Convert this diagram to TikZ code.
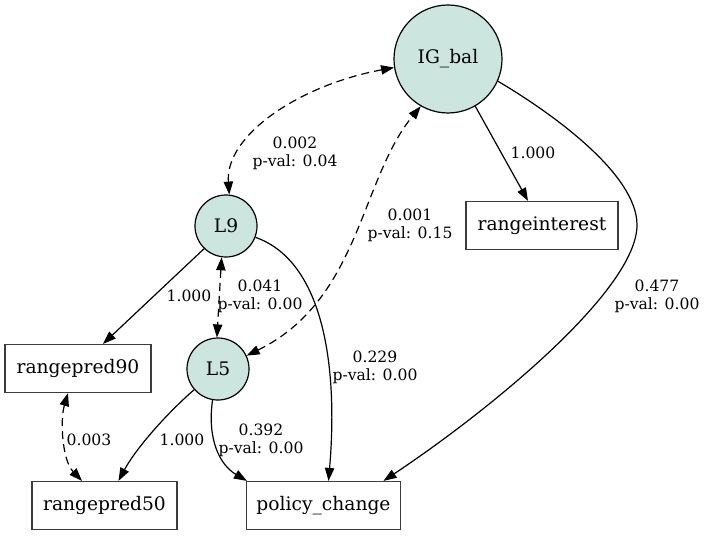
\documentclass[tikz,border=0pt]{standalone}
\usepackage{fontspec}
\setmainfont{DejaVu Serif}
\usetikzlibrary{arrows.meta,calc}
\definecolor{latfill}{RGB}{204,230,223}
\definecolor{boxgray}{RGB}{60,60,60}
\begin{document}
\begin{tikzpicture}[x=0.75pt,y=-0.75pt,
  >={Triangle[length=9.75pt,width=7pt]},
  latent/.style={circle,draw=black,fill=latfill,line width=0.9pt,inner sep=0pt,
    font=\fontsize{14pt}{16pt}\selectfont},
  obs/.style={rectangle,draw=boxgray,line width=0.9pt,minimum height=36pt,inner sep=0pt,
    font=\fontsize{14pt}{16pt}\selectfont},
  pathedge/.style={->,line width=0.9pt},
  covedge/.style={<->,dash pattern=on 6pt off 3.75pt,line width=0.9pt},
  elabel/.style={align=center,inner sep=0pt,font=\fontsize{11.7pt}{13.5pt}\selectfont}]
\useasboundingbox (0,0) rectangle (706,535);
% nodes
\node[latent,minimum size=81pt] (IG) at (448,59) {IG\_bal};
\node[latent,minimum size=46.5pt] (L9) at (226,226) {L9};
\node[latent,minimum size=46.5pt] (L5) at (218,369) {L5};
\node[obs,minimum width=114pt] (ri) at (542,225.5) {rangeinterest};
\node[obs,minimum width=109.5pt] (rp90) at (78,368.5) {rangepred90};
\node[obs,minimum width=108.75pt] (rp50) at (104.5,505.5) {rangepred50};
\node[obs,minimum width=115.5pt] (pc) at (323.5,505.5) {policy\_change};
% directed paths
\draw[pathedge] (IG.-60) -- ($(ri.north)+(-14,0)$);
\draw[pathedge] (IG.-24) .. controls (555,115) and (637,175) .. (637,225)
  .. controls (637,290) and (490,410) .. ($(pc.north)+(60,0)$);
\draw[pathedge] (L9.-134) -- ($(rp90.north)+(25,0)$);
\draw[pathedge] (L9.-21) .. controls (325,262) and (338,370) .. ($(pc.north)+(5,0)$);
\draw[pathedge] (L5.-139) .. controls (165,415) and (135,450) .. ($(rp50.north)+(14,0)$);
\draw[pathedge] (L5.-100) .. controls (207,440) and (220,465) .. ($(pc.north west)+(1,0)$);
% covariances
\draw[covedge] (L9.84) .. controls (225,135) and (300,85) .. (IG.189);
\draw[covedge] (L5.25) .. controls (360,300) and (360,180) .. (IG.240);
\draw[covedge] (L9.-98) -- (L5.92);
\draw[covedge] ($(rp90.south)+(-10,0)$) .. controls (60,420) and (62,460) .. ($(rp50.north)+(-22.5,0)$);
% labels
\node[elabel] (t1) at (533,153) {1.000};
\node[elabel] (t2) at (657,296) {0.477\\p-val: 0.00};
\node[elabel] (t3) at (295,153) {0.002\\p-val: 0.04};
\node[elabel] (t4) at (410,225) {0.001\\p-val: 0.15};
\node[elabel] (t5) at (189,296) {1.000};
\node[elabel] (t6) at (260,296) {0.041\\p-val: 0.00};
\node[elabel] (t7) at (375,367) {0.229\\p-val: 0.00};
\node[elabel] (t8) at (182,440) {1.000};
\node[elabel] (t9) at (261,440) {0.392\\p-val: 0.00};
\node[elabel] (t10) at (89,440) {0.003};
\end{tikzpicture}
\end{document}
